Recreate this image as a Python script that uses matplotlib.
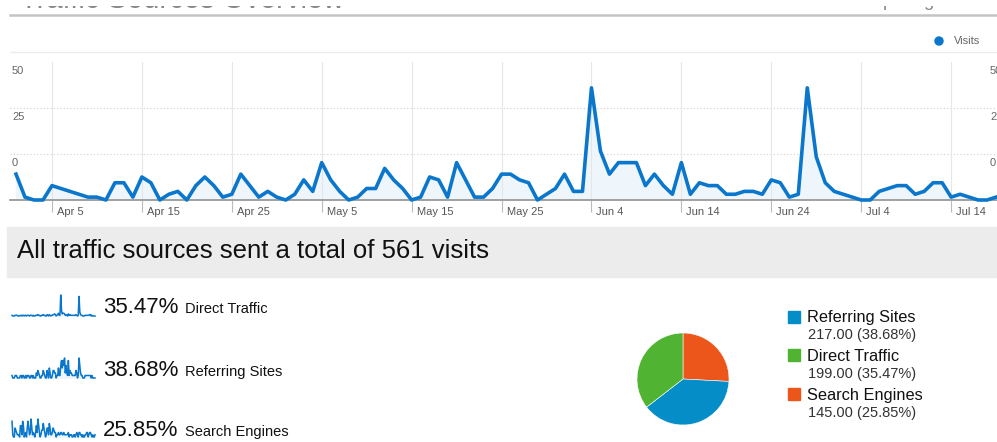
import numpy as np
import pandas as pd
import matplotlib
matplotlib.use('Agg')
import matplotlib.pyplot as plt
import matplotlib.dates as mdates
from matplotlib.patches import Rectangle, Circle

plt.rcParams['font.family'] = ['Liberation Sans', 'DejaVu Sans']

W, H = 997, 442

# daily visits, Apr 1 - Jul 19
dates = pd.date_range('2011-04-01', '2011-07-19', freq='D')
visits = [9, 1, 0, 0, 5, 4, 3, 2, 1, 1,
          0, 6, 6, 1, 8, 6, 0, 2, 3, 0,
          5, 8, 5, 1, 2, 9, 5, 1, 3, 1,
          0, 2, 7, 3, 13, 7, 3, 0, 1, 4,
          4, 11, 7, 4, 0, 1, 8, 7, 1, 13,
          7, 1, 1, 4, 9, 9, 7, 6, 0, 2,
          4, 9, 3, 3, 39, 17, 9, 13, 13, 13,
          5, 9, 5, 2, 13, 2, 6, 5, 5, 2,
          2, 3, 3, 2, 7, 6, 1, 2, 39, 15,
          6, 3, 2, 1, 0, 0, 3, 4, 5, 5,
          2, 3, 6, 6, 1, 2, 1, 0, 0, 1]

# sparklines per source (estimated)
direct = [1, 0, 0, 0, 1, 1, 1, 1, 0, 0,
          0, 1, 1, 0, 1, 1, 0, 1, 1, 0,
          1, 1, 1, 0, 1, 1, 1, 0, 1, 0,
          0, 1, 1, 1, 2, 1, 1, 0, 0, 1,
          1, 2, 1, 1, 0, 0, 2, 1, 0, 2,
          1, 0, 1, 1, 2, 2, 3, 2, 0, 1,
          2, 4, 1, 1, 30, 8, 3, 4, 4, 3,
          1, 2, 1, 0, 3, 1, 2, 1, 1, 1,
          1, 1, 1, 1, 2, 1, 0, 1, 28, 6,
          2, 1, 1, 0, 0, 0, 1, 1, 1, 1,
          1, 1, 2, 2, 0, 1, 0, 0, 0, 0]
referring = [1, 0, 0, 0, 1, 1, 1, 0, 0, 0,
             0, 1, 1, 0, 1, 1, 0, 0, 1, 0,
             1, 1, 1, 0, 0, 1, 1, 0, 1, 0,
             0, 0, 2, 1, 3, 2, 1, 0, 0, 1,
             1, 3, 2, 1, 0, 0, 3, 2, 0, 4,
             2, 0, 0, 1, 3, 3, 2, 2, 0, 1,
             1, 4, 1, 1, 5, 7, 4, 7, 5, 8,
             2, 5, 2, 1, 7, 1, 3, 2, 2, 1,
             1, 1, 1, 1, 3, 2, 0, 1, 8, 5,
             2, 1, 1, 0, 0, 0, 1, 1, 1, 1,
             1, 1, 1, 1, 0, 1, 0, 0, 0, 0]
search = [7, 1, 0, 0, 4, 3, 2, 1, 1, 1,
          0, 5, 5, 1, 7, 5, 0, 1, 2, 0,
          4, 7, 4, 1, 2, 8, 4, 1, 2, 1,
          0, 2, 5, 2, 8, 5, 2, 0, 1, 3,
          3, 6, 4, 2, 0, 1, 4, 4, 1, 6,
          4, 1, 1, 2, 4, 3, 2, 2, 0, 1,
          1, 2, 1, 1, 2, 2, 1, 1, 2, 1,
          1, 1, 1, 1, 2, 0, 1, 1, 1, 0,
          0, 1, 1, 0, 1, 2, 1, 0, 2, 2,
          1, 1, 0, 1, 0, 0, 1, 1, 2, 2,
          0, 1, 2, 2, 1, 0, 1, 0, 0, 1]

tick_dates = pd.date_range('2011-04-05', '2011-07-14', freq='10D')
tick_labels = ['Apr 5', 'Apr 15', 'Apr 25', 'May 5', 'May 15', 'May 25',
               'Jun 4', 'Jun 14', 'Jun 24', 'Jul 4', 'Jul 14']
y_ticks = [48, 32, 16]
y_tick_labels = ['50', '25', '0']

total_visits = 561
pie_names = ['Referring Sites', 'Direct Traffic', 'Search Engines']
pie_visits = [217.00, 199.00, 145.00]
pie_pct = [38.68, 35.47, 25.85]
pie_colors = ['#058dc7', '#50b432', '#ed561b']

spark_names = ['Direct Traffic', 'Referring Sites', 'Search Engines']
spark_pct = [35.47, 38.68, 25.85]

LINE = '#0a77cc'
FILL = '#eef6fc'


def px_rect(x0, y0, x1, y1):
    return [x0 / W, 1 - y1 / H, (x1 - x0) / W, (y1 - y0) / H]


fig = plt.figure(figsize=(W / 100, H / 100), dpi=100)

# overlay in pixel coords for the page furniture
bg = fig.add_axes([0, 0, 1, 1])
bg.set_xlim(0, W)
bg.set_ylim(H, 0)
bg.axis('off')
bg.set_zorder(0)

# page header, only its lower edge is left in the screenshot
bg.text(20, 8, 'Traffic Sources Overview', fontsize=21, color='#888', zorder=3)
bg.text(844, 6, 'Comparing', fontsize=13.3, color='#888', zorder=3)
bg.add_patch(Rectangle((0, -5), W, 11, facecolor='white', edgecolor='none', zorder=10))
bg.plot([10, W], [15, 15], color='#c4c4c4', lw=1.8, zorder=11)
bg.plot([10, W], [52, 52], color='#ececec', lw=1)
bg.add_patch(Circle((939, 41), 4, color=LINE))
bg.text(954, 41, 'Visits', fontsize=8, color='#666', va='center')

bg.add_patch(Rectangle((7, 227), W - 7, 50, color='#ececec', zorder=1))
bg.text(17, 258, 'All traffic sources sent a total of %d visits' % total_visits,
        fontsize=18.5, color='#111', zorder=2)

# main chart
ax = fig.add_axes(px_rect(10, 62, W, 200))
ax.set_zorder(1)
ax.patch.set_alpha(0)
ax.fill_between(dates, visits, color=FILL, zorder=1)
ax.plot(dates, visits, color=LINE, lw=2.6, zorder=3, clip_on=False)
x0 = mdates.date2num(dates[0])
x1 = mdates.date2num(dates[-1])
ax.set_xlim(x0 - 0.667, x1 + 0.1)
ax.set_ylim(0, 48)
for s in ['top', 'left', 'right']:
    ax.spines[s].set_visible(False)
ax.spines['bottom'].set_color('#999999')
ax.spines['bottom'].set_linewidth(1.3)
ax.set_xticks(tick_dates)
ax.set_yticks([])
ax.tick_params(axis='x', length=8.5, width=0.8, color='#bbbbbb', labelbottom=False)
ax.grid(axis='x', color='#e6e6e6', lw=0.8)
for v in [16, 32]:
    ax.axhline(v, color='#cfcfcf', lw=0.8, ls=(0, (1, 2)), zorder=0)
for d, lab in zip(tick_dates, tick_labels):
    ax.annotate(lab, (d, 0), xycoords=('data', 'axes fraction'), xytext=(5, -12),
                textcoords='offset pixels', ha='left', va='center',
                fontsize=8, color='#555', annotation_clip=False)
for v, lab in zip(y_ticks, y_tick_labels):
    ax.annotate(lab, (0, v), xycoords=('axes fraction', 'data'), xytext=(2, -9),
                textcoords='offset pixels', ha='left', va='center',
                fontsize=8, color='#666', annotation_clip=False)
    ax.annotate(lab, (1, v), xycoords=('axes fraction', 'data'), xytext=(-7, -9),
                textcoords='offset pixels', ha='left', va='center',
                fontsize=8, color='#666', annotation_clip=False)

# sparklines + percentages
spark_data = [direct, referring, search]
spark_rows = [(295, 316, 313), (358, 378, 376), (419, 437, 436)]
for vals, name, pct, (top, base, bl) in zip(spark_data, spark_names, spark_pct, spark_rows):
    sa = fig.add_axes(px_rect(12, top, 95, base))
    sa.set_zorder(1)
    sa.fill_between(dates, vals, color=FILL)
    sa.plot(dates, vals, color=LINE, lw=1.1, clip_on=False)
    sa.set_xlim(x0, x1)
    sa.set_ylim(0, max(vals))
    sa.axis('off')
    bg.text(103, bl, '%.2f%%' % pct, fontsize=16, color='#111')
    bg.text(185, bl, name, fontsize=10.5, color='#111')

# pie
pa = fig.add_axes(px_rect(637, 333, 729, 425))
pa.set_zorder(1)
order = [2, 0, 1]
pa.pie([pie_visits[i] for i in order], colors=[pie_colors[i] for i in order],
       startangle=90, counterclock=False, radius=1,
       wedgeprops=dict(edgecolor='white', linewidth=0.4))
pa.set_xlim(-1, 1)
pa.set_ylim(-1, 1)
pa.set_aspect('equal')

legend_rows = [(311, 322, 339), (349, 361, 378), (388, 400, 417)]
for name, v, pct, col, (sq, bl1, bl2) in zip(pie_names, pie_visits, pie_pct, pie_colors, legend_rows):
    bg.add_patch(Rectangle((788, sq), 12, 12, color=col))
    bg.text(807, bl1, name, fontsize=11.8, color='#111')
    bg.text(808, bl2, '%.2f (%.2f%%)' % (v, pct), fontsize=10.5, color='#333')

fig.savefig('out.png', dpi=100)
